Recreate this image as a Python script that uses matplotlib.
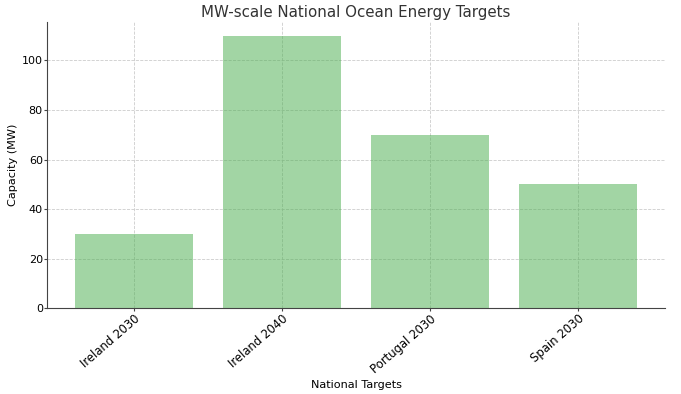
import matplotlib
matplotlib.use("Agg")
import matplotlib.pyplot as plt

categories = ["Ireland 2030", "Ireland 2040", "Portugal 2030", "Spain 2030"]
capacity_mw = [30, 110, 70, 50]

fig = plt.figure(figsize=(6.81, 3.94), dpi=100)
ax = fig.add_axes([0.069, 0.218, 0.908, 0.726])
ax.bar(categories, capacity_mw, color="#47ad4b", alpha=0.5, width=0.8)
ax.grid(True, linestyle="--", linewidth=0.6, color="#cccccc")
ax.set_axisbelow(True)
ax.set_title("MW-scale National Ocean Energy Targets", fontsize=10.8, color="#333333", pad=4)
ax.set_xlabel("National Targets", fontsize=8.1, labelpad=3)
ax.set_ylabel("Capacity (MW)", fontsize=8.1, labelpad=3)
ax.tick_params(axis="y", labelsize=8.0, length=2.2, pad=0.8, color="#444444")
ax.tick_params(axis="x", labelsize=8.4, length=2.2, pad=0.8, color="#444444")
plt.setp(ax.get_xticklabels(), rotation=41, ha="right", rotation_mode="anchor")
for s in ["top", "right"]:
    ax.spines[s].set_visible(False)
for s in ["left", "bottom"]:
    ax.spines[s].set_color("#444444")
fig.savefig("out.png", dpi=100)
